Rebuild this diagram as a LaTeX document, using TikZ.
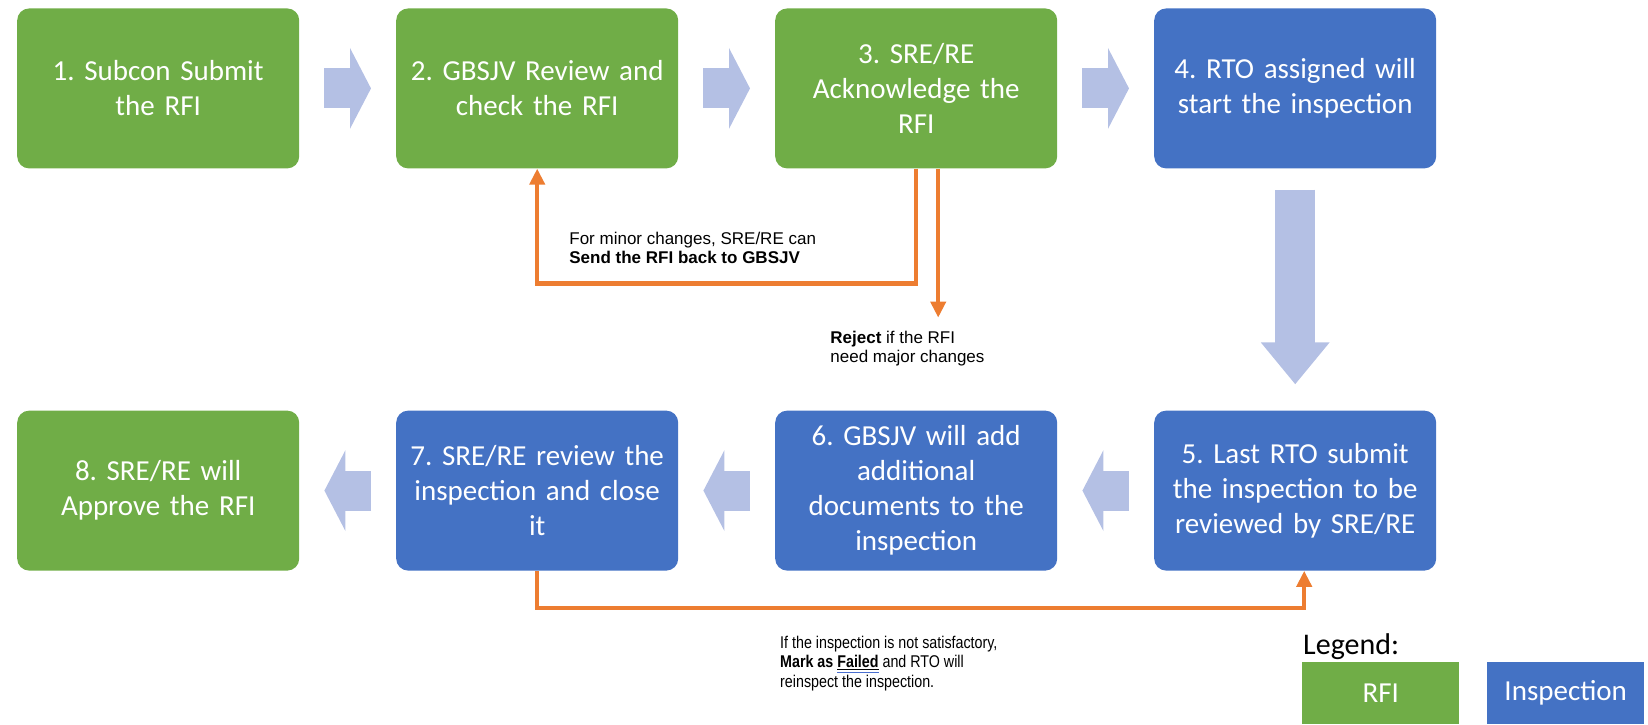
\documentclass[tikz,border=0pt]{standalone}
\usepackage{fontspec}
\setmainfont{Carlito}
\newfontfamily\notefont{Liberation Sans}
\newfontfamily\narrownotefont[FakeStretch=0.84]{Liberation Sans}
\usetikzlibrary{arrows.meta,positioning}
\frenchspacing

\definecolor{rfigreen}{HTML}{70AD47}
\definecolor{inspblue}{HTML}{4472C4}
\definecolor{flowarrow}{HTML}{B4C0E4}
\definecolor{backline}{HTML}{ED7D31}
\definecolor{checkblue}{HTML}{4A6FD0}

% bold word with the underline and the blue proofing mark below it
\newcommand{\failmark}[1]{\setbox0\hbox{#1}\underline{\copy0}\llap{\textcolor{checkblue}{\rule[-5pt]{\wd0}{0.8pt}}}}

\begin{document}
\begin{tikzpicture}
	[x=1pt, y=1pt, auto,
		containsText/.style	={font=\fontsize{29}{35}\selectfont
									, text=white
									},
		stage/.style		={rectangle
									, containsText
									, rounded corners=12pt
									, text width=274pt
									, inner sep=4pt
									, align=center
									, minimum height=160pt
									},
		rfi/.style			={stage, fill=rfigreen},
		inspection/.style	={stage, fill=inspblue},
		flow/.style			={draw=flowarrow
									, line width=40pt
									, -{Triangle[length=21pt, width=80pt]}
									, shorten <=25pt
									, shorten >=25pt
									},
		down flow/.style	={flow
									, line width=40pt
									, -{Triangle[length=42pt, width=66pt]}
									, shorten <=21pt
									, shorten >=26pt
									},
		recheck/.style		={draw=backline
									, line width=4.5pt
									, -{Triangle[length=16pt, width=15pt]}
									},
		remark/.style		={font=\notefont\fontsize{17}{19.5}\selectfont
									, align=left
									, inner sep=0pt
									},
		legend key/.style	={rectangle
									, containsText
									, minimum width=157pt
									, minimum height=62pt
									, inner sep=0pt
									, anchor=north west
									}
	]
\useasboundingbox (0,0) rectangle (1648,-724);

\matrix (flowchart) [column sep=97pt, row sep=242pt, inner sep=0pt, anchor=north west] at (17,-8)
	{
		% row 1
			\node [rfi] (subcon)				{1. Subcon Submit\\the RFI}; &
			\node [rfi] (review)				{2. GBSJV Review and\\check the RFI}; &
			\node [rfi] (acknowledge)		{3. SRE/RE\\Acknowledge the\\RFI}; &
			\node [inspection] (assign)		{4. RTO assigned will\\start the inspection}; \\
		% row 2
			\node [rfi] (approve)				{8. SRE/RE will\\Approve the RFI}; &
			\node [inspection] (close)		{7. SRE/RE review the\\inspection and close\\it}; &
			\node [inspection] (documents)	{6. GBSJV will add\\additional\\documents to the\\inspection}; &
			\node [inspection] (last)			{5. Last RTO submit\\the inspection to be\\reviewed by SRE/RE}; \\
	};

% block arrows
\path	[flow]			(subcon)		-- (review);
\path	[flow]			(review)		-- (acknowledge);
\path	[flow]			(acknowledge)	-- (assign);
\path	[down flow]	(assign)		-- (last);
\path	[flow]			(last)			-- (documents);
\path	[flow]			(documents)	-- (close);
\path	[flow]			(close)			-- (approve);

% send back, reject and fail
\coordinate (reject end) at ([xshift=22pt, yshift=-149pt]acknowledge.south);
\path	[recheck]		(acknowledge.south) -- ++(0,-115) -| (review.south);
\path	[recheck]		(acknowledge.south -| reject end) -- (reject end);
\path	[recheck]		(close.south) -- ++(0,-37) -| ([xshift=9pt]last.south);

\node [remark, anchor=north west] (minor note) at ([xshift=32pt, yshift=-63pt]review.south)
	{For minor changes, SRE/RE can\\\textbf{Send the RFI back to GBSJV}};
\node [remark, anchor=north west] (reject note) at ([xshift=-108pt, yshift=-13pt]reject end)
	{\textbf{Reject} if the RFI\\need major changes};
\node [remark, font=\narrownotefont\fontsize{17}{19.5}\selectfont, anchor=north west] (failed note)
	at ([xshift=5pt, yshift=-65pt]documents.south west)
	{If the inspection is not satisfactory,\\\textbf{Mark as \failmark{Failed}} and RTO will\\reinspect the inspection.};

% legend
\node [font=\fontsize{30}{36}\selectfont, anchor=west, inner sep=0pt] (legend title) at (1303,-647) {Legend:};
\node [legend key, fill=rfigreen] (legend rfi) at (1302,-662) {RFI};
\node [legend key, fill=inspblue] (legend inspection) at (1487,-662) {Inspection};
\end{tikzpicture}
\end{document}
